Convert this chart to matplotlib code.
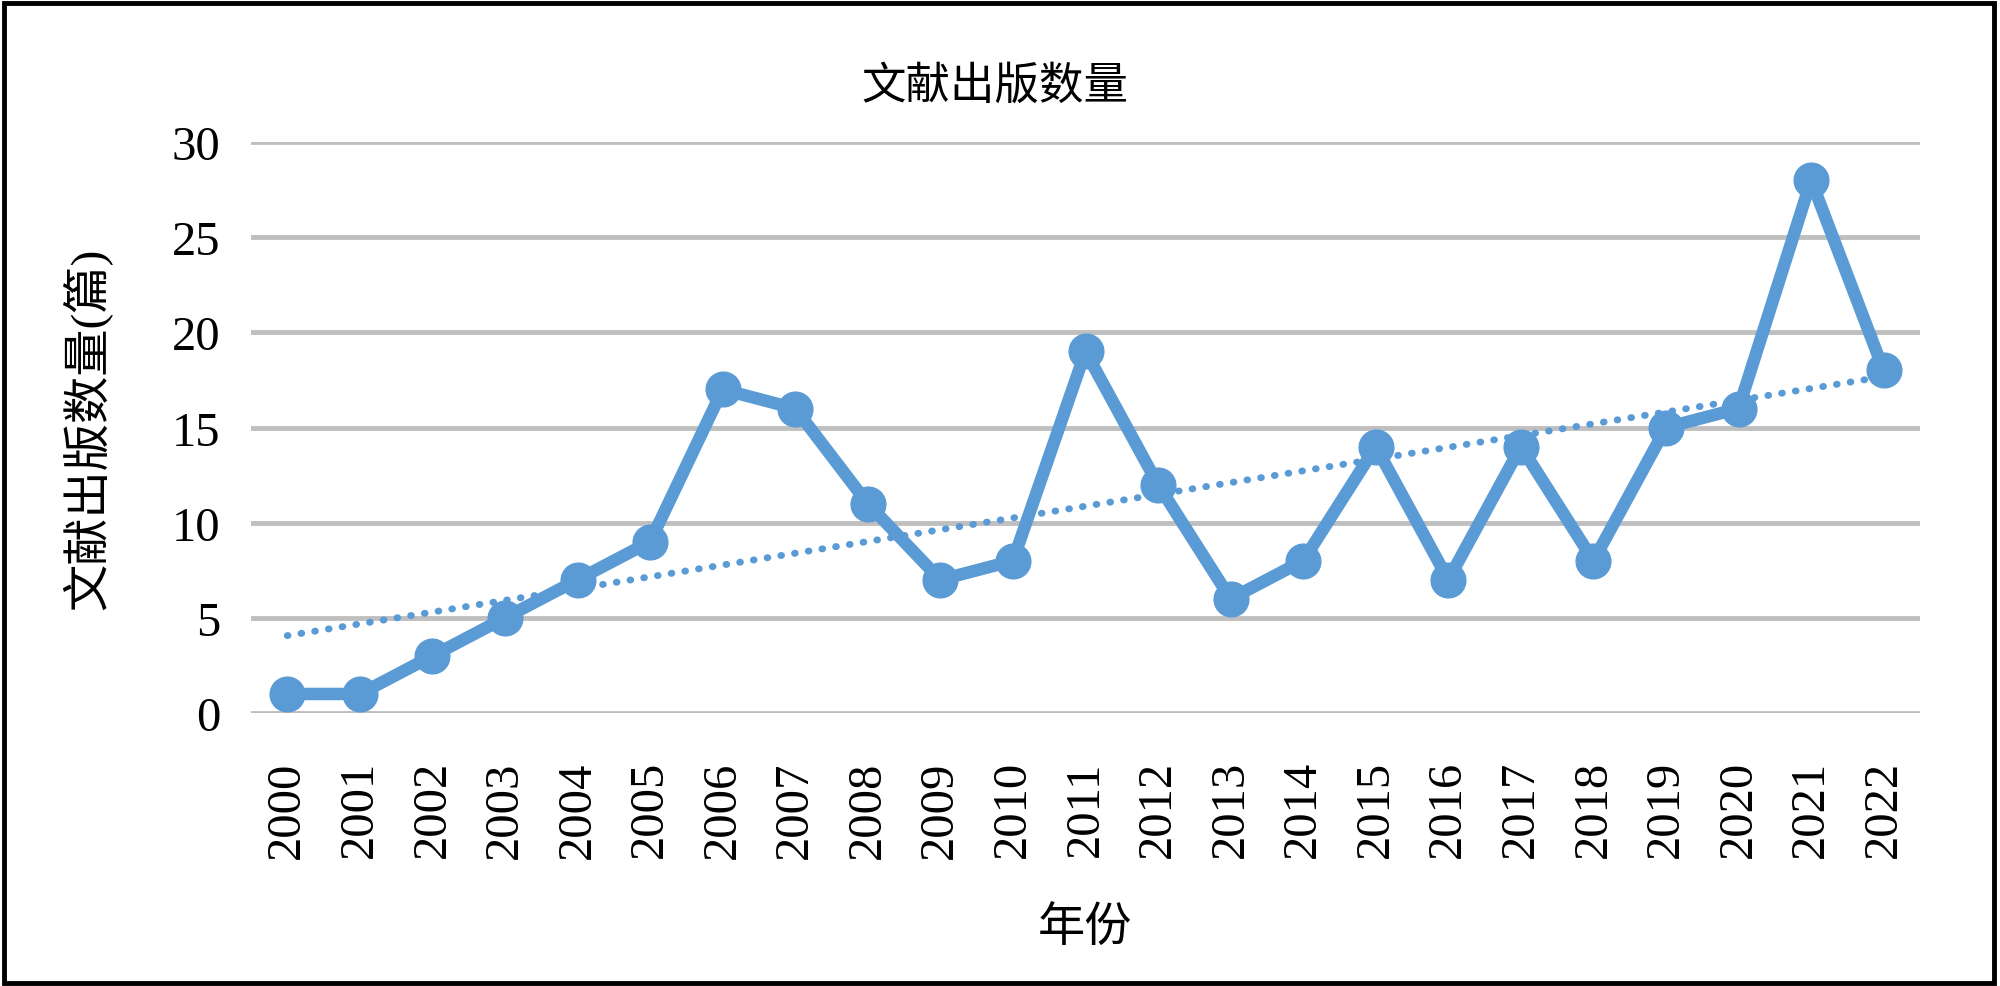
import numpy as np
import matplotlib
matplotlib.use("Agg")
import matplotlib.pyplot as plt
from matplotlib.patches import Rectangle

plt.rcParams['font.family'] = ['Liberation Serif', 'Noto Sans CJK SC']

# data
years = [str(y) for y in range(2000, 2023)]
counts = [1, 1, 3, 5, 7, 9, 17, 16, 11, 7, 8, 19, 12, 6, 8, 14, 7, 14, 8, 15, 16, 28, 18]
y_ticks = [0, 5, 10, 15, 20, 25, 30]

title = "文献出版数量"
x_label = "年份"
y_label = "文献出版数量(篇)"

blue = "#5B9BD5"
grid_color = "#BFBFBF"

fig = plt.figure(figsize=(20, 9.87), dpi=100)
ax = fig.add_axes([0.1255, 0.2766, 0.8345, 0.5784])

x = np.arange(len(years))

# linear trend line (like Excel's)
poly = np.poly1d(np.polyfit(x, counts, 1))
ax.plot(x, poly(x), linestyle=(0, (0.1, 1.9)), dash_capstyle='round',
        color=blue, linewidth=5, zorder=2)

ax.plot(x, counts, color=blue, linewidth=9, marker='o', markersize=25,
        solid_joinstyle='round', zorder=3)

ax.set_xlim(-0.5, len(years) - 0.5)
ax.set_ylim(0, 30)
ax.set_yticks(y_ticks)
ax.set_xticks(x)
ax.set_xticklabels(years, rotation=90)
ax.yaxis.grid(True, color=grid_color, linewidth=3.5)
ax.set_axisbelow(True)
ax.tick_params(axis='both', length=0, labelsize=35)
ax.tick_params(axis='y', pad=22)
ax.tick_params(axis='x', pad=34)
for s in ax.spines.values():
    s.set_visible(False)

ax.set_xlabel(x_label, fontsize=34, va='center')
ax.xaxis.set_label_coords(0.5, -0.377)
ax.set_ylabel(y_label, fontsize=34, va='center')
ax.yaxis.set_label_coords(-0.098, 0.5)

fig.text(0.4975, 0.912, title, fontsize=32, ha='center', va='center')

# outer black frame
fig.patches.append(Rectangle((0.002, 0.003), 0.995, 0.993, transform=fig.transFigure,
                             fill=False, edgecolor='black', linewidth=3.5))

fig.savefig("out.png", dpi=100)
